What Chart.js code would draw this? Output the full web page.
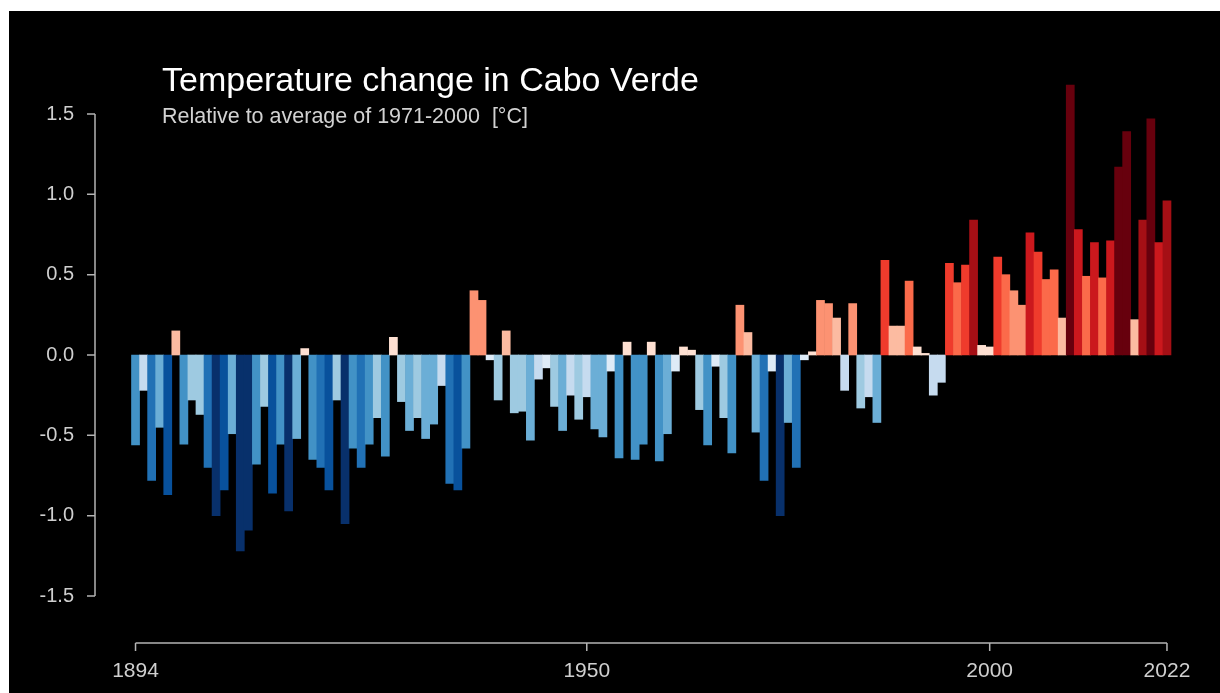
<!DOCTYPE html>
<html lang="en">
<head>
  <meta charset="UTF-8">
  <title>Temperature change in Cabo Verde</title>
  <script src="https://cdn.jsdelivr.net/npm/chart.js"></script>
  <style>
    body {
      margin: 0;
      padding: 0;
      background-color: #fff;
    }

    .chart-container {
      position: relative;
      width: 1220px;
      height: 693px;
    }
  </style>
</head>
<body>
  <div class="chart-container">
    <canvas id="stripesChart"></canvas>
  </div>

  <script>
    // Annual anomalies, relative to 1971-2000 (°C)
    const firstYear = 1894;
    const anomalies = [
      -0.56, -0.22, -0.78, -0.45, -0.87, 0.15, -0.555, -0.28, -0.37, -0.70,   // 1894-1903
      -1.00, -0.84, -0.49, -1.22, -1.09, -0.68, -0.32, -0.86, -0.555, -0.97,  // 1904-1913
      -0.52, 0.04, -0.65, -0.70, -0.84, -0.28, -1.05, -0.58, -0.70, -0.555,   // 1914-1923
      -0.39, -0.63, 0.11, -0.29, -0.47, -0.39, -0.52, -0.43, -0.19, -0.80,    // 1924-1933
      -0.84, -0.58, 0.40, 0.34, -0.03, -0.28, 0.15, -0.36, -0.35, -0.53,      // 1934-1943
      -0.15, -0.08, -0.32, -0.47, -0.25, -0.40, -0.26, -0.46, -0.51, -0.10,   // 1944-1953
      -0.64, 0.08, -0.65, -0.555, 0.08, -0.66, -0.49, -0.10, 0.05, 0.03,      // 1954-1963
      -0.34, -0.56, -0.07, -0.39, -0.61, 0.31, 0.14, -0.48, -0.78, -0.10,     // 1964-1973
      -1.00, -0.42, -0.70, -0.03, 0.02, 0.34, 0.32, 0.23, -0.22, 0.32,        // 1974-1983
      -0.33, -0.26, -0.42, 0.59, 0.18, 0.18, 0.46, 0.05, 0.01, -0.25,         // 1984-1993
      -0.17, 0.57, 0.45, 0.56, 0.84, 0.06, 0.05, 0.61, 0.50, 0.40,            // 1994-2003
      0.31, 0.76, 0.64, 0.47, 0.53, 0.23, 1.68, 0.78, 0.49, 0.70,             // 2004-2013
      0.48, 0.71, 1.17, 1.39, 0.22, 0.84, 1.47, 0.70, 0.96                    // 2014-2022
    ];
    const years = anomalies.map((v, i) => firstYear + i);
    const xTicks = [1894, 1950, 2000, 2022];
    const yTicks = [1.5, 1.0, 0.5, 0.0, -0.5, -1.0, -1.5];

    const reds = ['#fee0d2', '#fcbba1', '#fc9272', '#fb6a4a', '#ef3b2c', '#cb181d', '#a50f15', '#67000d'];
    const blues = ['#deebf7', '#c6dbef', '#9ecae1', '#6baed6', '#4292c6', '#2171b5', '#08519c', '#08306b'];

    function stripeColor(v) {
      const idx = Math.min(7, Math.floor(Math.abs(v) / 0.1375));
      return v >= 0 ? reds[idx] : blues[idx];
    }

    const FONT = '"Helvetica Neue", Helvetica, "Liberation Sans", Arial, sans-serif';

    // black panel behind everything, white strip top/left like the source
    const backdrop = {
      id: 'backdrop',
      beforeDraw(chart) {
        const c = chart.ctx;
        c.save();
        c.fillStyle = '#fff';
        c.fillRect(0, 0, chart.width, chart.height);
        c.fillStyle = '#000';
        c.fillRect(9, 11, chart.width - 9, chart.height - 11);
        c.restore();
      }
    };

    // R-style axes plus title text
    const axesAndTitle = {
      id: 'axesAndTitle',
      afterDraw(chart) {
        const c = chart.ctx;
        const xs = chart.scales.x;
        const ys = chart.scales.y;
        c.save();
        c.strokeStyle = '#b4b4b4';
        c.lineWidth = 1.5;
        c.fillStyle = '#cfcfcf';

        // y axis
        const ax = 95;
        c.beginPath();
        c.moveTo(ax, ys.getPixelForValue(yTicks[0]));
        c.lineTo(ax, ys.getPixelForValue(yTicks[yTicks.length - 1]));
        yTicks.forEach(t => {
          const py = ys.getPixelForValue(t);
          c.moveTo(ax, py);
          c.lineTo(ax - 8, py);
        });
        c.stroke();
        c.font = '20px ' + FONT;
        c.textAlign = 'right';
        c.textBaseline = 'middle';
        yTicks.forEach(t => {
          c.fillText(t.toFixed(1), 74, ys.getPixelForValue(t));
        });

        // x axis
        const ay = 643;
        c.beginPath();
        c.moveTo(xs.getPixelForValue(xTicks[0]), ay);
        c.lineTo(xs.getPixelForValue(xTicks[xTicks.length - 1]), ay);
        xTicks.forEach(t => {
          const px = xs.getPixelForValue(t);
          c.moveTo(px, ay);
          c.lineTo(px, ay + 8);
        });
        c.stroke();
        c.font = '21px ' + FONT;
        c.textAlign = 'center';
        c.textBaseline = 'alphabetic';
        xTicks.forEach(t => {
          c.fillText(String(t), xs.getPixelForValue(t), 677);
        });

        // title
        c.textAlign = 'left';
        c.fillStyle = '#ffffff';
        c.font = '34px ' + FONT;
        c.fillText('Temperature change in Cabo Verde', 162, 91);
        c.fillStyle = '#d2d2d2';
        c.font = '21.5px ' + FONT;
        c.fillText('Relative to average of 1971-2000  [°C]', 162, 123);
        c.restore();
      }
    };

    const ctx = document.getElementById('stripesChart').getContext('2d');
    const stripesChart = new Chart(ctx, {
      type: 'bar',
      data: {
        datasets: [
          {
            data: years.map((y, i) => ({ x: y, y: anomalies[i] })),
            backgroundColor: c => stripeColor(c.raw ? c.raw.y : 0),
            borderWidth: 0,
            barPercentage: 1.0,
            categoryPercentage: 1.0,
            clip: false,
          },
        ],
      },
      options: {
        responsive: true,
        maintainAspectRatio: false,
        animation: false,
        layout: {
          padding: { left: 131.5, right: 49, top: 114, bottom: 97 },
        },
        scales: {
          x: {
            type: 'linear',
            min: firstYear - 0.5,
            max: years[years.length - 1] + 0.5,
            offset: false,
            display: false,
          },
          y: {
            min: -1.5,
            max: 1.5,
            display: false,
          },
        },
        plugins: {
          legend: { display: false },
          tooltip: { enabled: false },
        },
      },
      plugins: [backdrop, axesAndTitle],
    });
  </script>
</body>
</html>
